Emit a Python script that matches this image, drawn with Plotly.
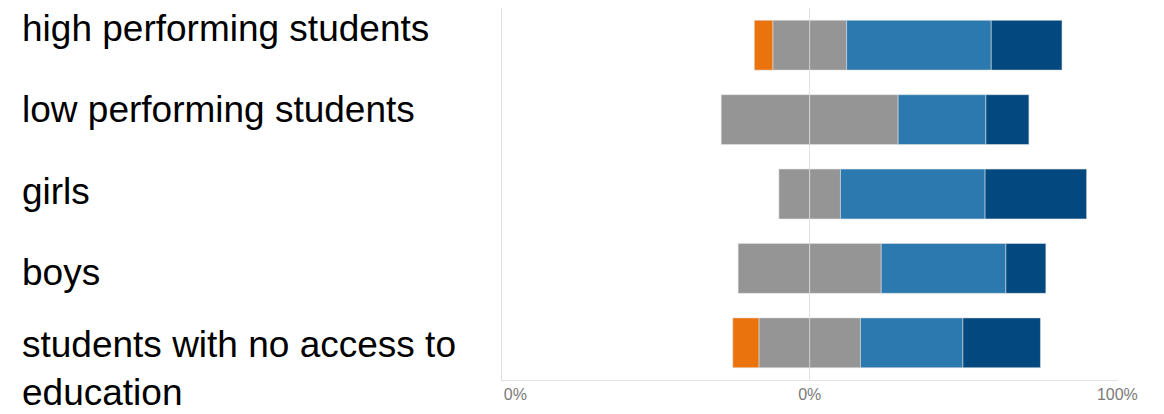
import plotly.graph_objects as go

categories = ["high performing students", "low performing students", "girls", "boys",
              "students with no access to education"]
label_text = ["high performing students", "low performing students", "girls", "boys",
              "students with no access to<br>education"]
disagree = [6, 0, 0, 0, 8.5]
neutral = [24, 57.5, 20, 46.5, 33]
agree = [47, 28.5, 47, 40.5, 33.3]
strongly_agree = [23, 14, 33, 13, 25.2]

tick_vals = [-100, 0, 100]
tick_text = ["\u00a0" * 6 + "0%", "0%", "100%"]

ORANGE = "#EA730E"
GRAY = "#959595"
BLUE = "#2C79B0"
DARK = "#03487F"

neutral_half = [v / 2 for v in neutral]
edge = dict(color="rgba(225,225,225,0.55)", width=1)

fig = go.Figure()
fig.add_trace(go.Bar(y=categories, x=[-v for v in neutral_half], orientation="h",
                     marker=dict(color=GRAY, line=edge), name="neutral"))
fig.add_trace(go.Bar(y=categories, x=[-v for v in disagree], orientation="h",
                     marker=dict(color=ORANGE, line=edge), name="disagree"))
fig.add_trace(go.Bar(y=categories, x=neutral_half, orientation="h",
                     marker=dict(color=GRAY, line=edge), name="neutral "))
fig.add_trace(go.Bar(y=categories, x=agree, orientation="h",
                     marker=dict(color=BLUE, line=edge), name="agree"))
fig.add_trace(go.Bar(y=categories, x=strongly_agree, orientation="h",
                     marker=dict(color=DARK, line=edge), name="strongly agree"))

label_y = [0.944, 0.726, 0.508, 0.288, 0.032]
for txt, yy in zip(label_text, label_y):
    fig.add_annotation(text=txt, xref="paper", yref="paper", x=-0.783, y=yy,
                       xanchor="left", yanchor="middle", showarrow=False, align="left",
                       font=dict(size=37, color="#000000",
                                 family="Liberation Sans, Arial, sans-serif"))

fig.update_layout(
    width=1156, height=406,
    margin=dict(l=494, r=46, t=0, b=34),
    barmode="relative", bargap=0.33,
    showlegend=False,
    plot_bgcolor="white", paper_bgcolor="white",
    font=dict(family="Liberation Sans, Arial, sans-serif"),
    xaxis=dict(range=[-100, 100.2], tickvals=tick_vals, ticktext=tick_text,
               showgrid=True, gridcolor="#e2e2e2", gridwidth=1, zeroline=False,
               showline=True, linecolor="#e2e2e2", linewidth=1, mirror=False,
               ticks="", tickfont=dict(size=16, color="#7a7a7a"), fixedrange=True),
    yaxis=dict(autorange="reversed", showticklabels=False, showgrid=False,
               showline=True, linecolor="#e2e2e2", linewidth=1, zeroline=False,
               ticks="", fixedrange=True),
)

fig.write_html("out.html")
